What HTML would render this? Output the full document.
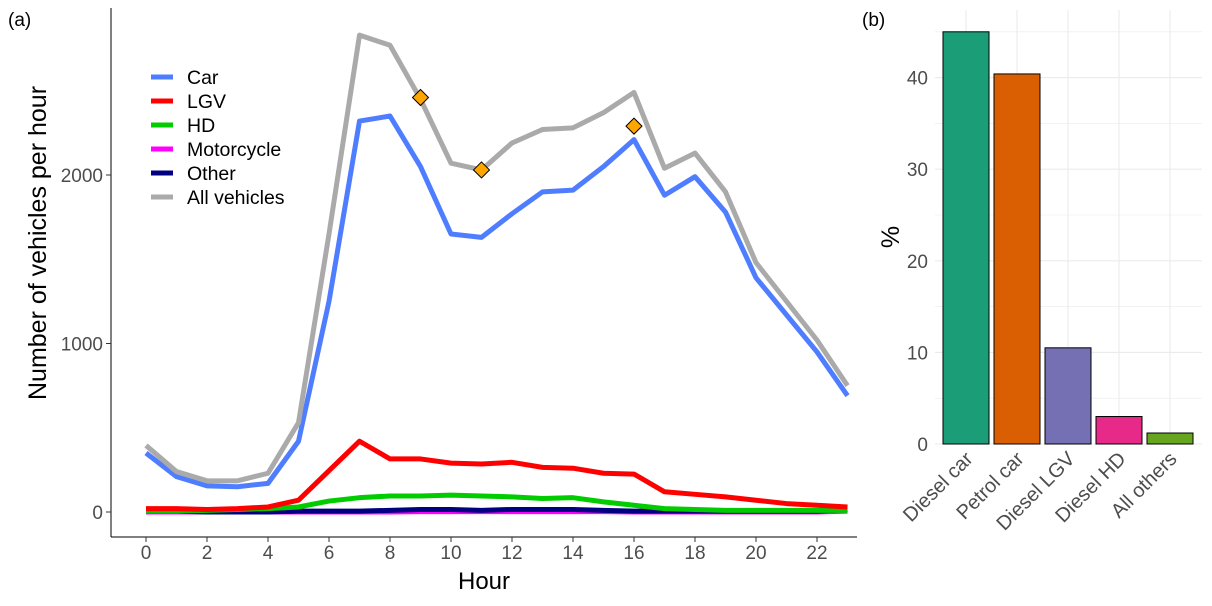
<!DOCTYPE html>
<html><head><meta charset="utf-8"><style>
body{margin:0;background:#fff;font-family:"Liberation Sans",Arial,sans-serif}
text{font-family:"Liberation Sans",Arial,sans-serif}
</style></head><body>
<svg width="1212" height="601">
<g id="left"></g>
<g id="right"></g>
</svg>
<script>
const hours=[0,1,2,3,4,5,6,7,8,9,10,11,12,13,14,15,16,17,18,19,20,21,22,23];
const allVeh=[395,240,185,185,230,530,1650,2830,2770,2450,2070,2030,2190,2270,2280,2370,2490,2040,2130,1900,1480,1250,1020,750];
const car=[350,210,155,150,170,420,1250,2320,2350,2050,1650,1630,1770,1900,1910,2050,2210,1880,1990,1780,1390,1170,950,690];
const lgv=[20,20,15,20,30,70,245,420,315,315,290,285,295,265,260,230,225,120,105,90,70,50,40,30];
const hd=[5,5,10,15,20,30,65,85,95,95,100,95,90,80,85,60,40,20,15,10,10,10,10,10];
const other=[5,5,0,0,0,5,5,5,10,15,15,10,15,15,15,10,5,5,5,5,5,5,5,15];
const moto=[0,0,0,0,0,0,0,0,0,2,2,2,2,2,2,2,0,0,0,0,0,0,0,5];
const markerHours=[9,11,16];
const markerVals=[2460,2030,2290];
const xTicks=[0,2,4,6,8,10,12,14,16,18,20,22];
const yTicks=[0,1000,2000];
const barCats=["Diesel car","Petrol car","Diesel LGV","Diesel HD","All others"];
const barVals=[45.0,40.4,10.5,3.0,1.2];
const barColors=["#1b9e77","#d95f02","#7570b3","#e7298a","#66a61e"];
const pTicks=[0,10,20,30,40];

const NS="http://www.w3.org/2000/svg";
function mk(p,t,a,txt){const e=document.createElementNS(NS,t);for(const k in a)e.setAttribute(k,a[k]);if(txt!==undefined)e.textContent=txt;p.appendChild(e);return e;}
const L=document.getElementById('left');
const xs=h=>146+h*(671/22);
const ys=v=>512-v*0.1685;
let e=mk(L,'line',{x1:111,y1:8,x2:111,y2:537,stroke:'#000','stroke-width':1});

e=mk(L,'line',{x1:111,y1:537,x2:857,y2:537,stroke:'#000','stroke-width':1});

xTicks.forEach(t=>{mk(L,'line',{x1:xs(t),y1:537,x2:xs(t),y2:542,stroke:'#333'});
 e=mk(L,'text',{x:xs(t),y:559,'text-anchor':'middle','font-size':19,fill:'#4d4d4d'},t);
 });
yTicks.forEach(t=>{mk(L,'line',{x1:106,y1:ys(t),x2:111,y2:ys(t),stroke:'#333'});
 e=mk(L,'text',{x:103,y:ys(t)+7,'text-anchor':'end','font-size':19,fill:'#4d4d4d'},t);
 });
e=mk(L,'text',{x:484,y:589,'text-anchor':'middle','font-size':24},'Hour');

e=mk(L,'text',{x:46,y:243,'text-anchor':'middle','font-size':25,transform:'rotate(-90 46 243)'},'Number of vehicles per hour');

e=mk(L,'text',{x:8,y:26,'font-size':19},'(a)');

const series=[["All vehicles",allVeh,"#aaaaaa"],["Car",car,"#4f7dff"],["LGV",lgv,"#ff0000"],["HD",hd,"#00cc00"],["Motorcycle",moto,"#ff00ff"],["Other",other,"#000080"]];
[4,5,3,2,1,0].forEach(i=>{const s=series[i];
 e=mk(L,'polyline',{points:hours.map((h,j)=>xs(h)+','+ys(s[1][j])).join(' '),fill:'none',stroke:s[2],'stroke-width':5,'stroke-linejoin':'round'});
 });
markerHours.forEach((h,i)=>{const x=xs(h),y=ys(markerVals[i]);
 e=mk(L,'polygon',{points:`${x},${y-8} ${x+8},${y} ${x},${y+8} ${x-8},${y}`,fill:'#ffa500',stroke:'#000','stroke-width':1});
 });
const legOrder=[1,2,3,4,5,0];
legOrder.forEach((si,r)=>{const s=series[si];const y=77+r*24;
 const g=mk(L,'g',{});
 
 mk(g,'line',{x1:151,y1:y,x2:173,y2:y,stroke:s[2],'stroke-width':5});
 mk(g,'text',{x:187,y:y+7,'font-size':19.5},s[0]);});

const R=document.getElementById('right');
const yb=v=>444-v*9.16;
const bx=i=>966+i*51;
for(let v=5;v<=45;v+=10)mk(R,'line',{x1:935,y1:yb(v),x2:1202,y2:yb(v),stroke:'#ebebeb','stroke-width':0.6});
pTicks.forEach(t=>{mk(R,'line',{x1:935,y1:yb(t),x2:1202,y2:yb(t),stroke:'#ebebeb','stroke-width':1.1});
 e=mk(R,'text',{x:928,y:yb(t)+7,'text-anchor':'end','font-size':19,fill:'#4d4d4d'},t);
 });
barCats.forEach((c,i)=>mk(R,'line',{x1:bx(i),y1:10,x2:bx(i),y2:444,stroke:'#ebebeb','stroke-width':1.1}));
barCats.forEach((c,i)=>{
 e=mk(R,'rect',{x:bx(i)-23,y:yb(barVals[i]),width:46,height:444-yb(barVals[i]),fill:barColors[i],stroke:'#000','stroke-width':1});
 
 const tx=bx(i)+8,ty=460;
 e=mk(R,'text',{x:tx,y:ty,'text-anchor':'end','font-size':20,fill:'#4d4d4d',transform:`rotate(-45 ${tx} ${ty})`},c);
 });
e=mk(R,'text',{x:899,y:237,'text-anchor':'middle','font-size':25,transform:'rotate(-90 899 237)'},'%');

e=mk(R,'text',{x:862,y:26,'font-size':19},'(b)');

</script>
</body></html>
